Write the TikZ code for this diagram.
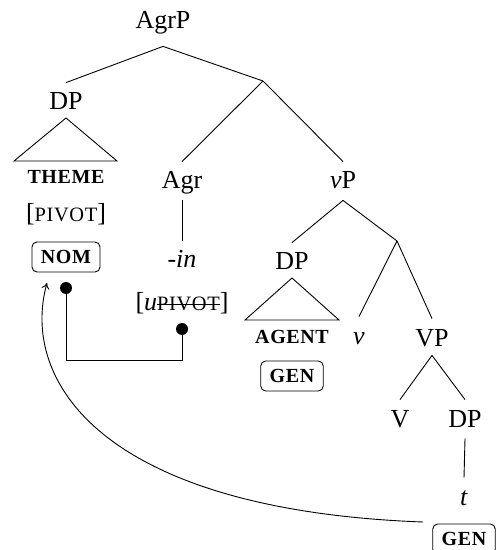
\documentclass[tikz,border=0pt]{standalone}
\usepackage{fontspec}
\setmainfont{Liberation Serif}
\newfontfamily\scfont[LetterSpace=3]{Liberation Serif}
\usetikzlibrary{arrows.meta}
\newcommand\smc[1]{{\scfont\fontsize{10.2}{12}\selectfont #1}}
\newcommand\bsmc[1]{{\scfont\bfseries\fontsize{10}{12}\selectfont #1}}
\newcommand\strk[1]{\setbox0\hbox{#1}\rlap{\rule[0.45ex]{\wd0}{0.5pt}}\box0}
\begin{document}
\begin{tikzpicture}[x=0.5pt,y=-0.5pt,
  lab/.style={anchor=base,font=\fontsize{13}{15}\selectfont,inner sep=2.5pt,text height=11pt,text depth=3pt},
  feat/.style={anchor=base,font=\fontsize{13}{15}\selectfont,inner sep=1pt},
  casebox/.style={draw,rounded corners=2.5pt,font=\fontsize{13}{15}\selectfont,inner xsep=4.5pt,minimum height=15pt,text height=6.8pt,text depth=0pt,line width=0.45pt},
  dotn/.style={circle,fill,inner sep=0pt,minimum size=6pt},
  br/.style={line width=0.45pt}]
\useasboundingbox (0,0) rectangle (497,550);
% labels
\node[lab,text depth=6pt] (agrp) at (163,29) {AgrP};
\node[lab] (dp1) at (66,110) {DP};
\coordinate (xb) at (263,81);
\node[lab] (agr) at (182,189) {Agr};
\node[lab] (vp) at (343,189) {\textit{v}P};
\node[lab] (in) at (182,268) {\textit{-in}};
\node[feat] (upivot) at (182,310) {[\textit{u}\strk{\smc{PIVOT}}]};
\node[feat] (theme) at (66,184) {\bsmc{THEME}};
\node[feat] (pivot) at (66,222) {[\smc{PIVOT}]};
\node[casebox] (nom) at (66,257) {\bsmc{NOM}};
\node[lab] (dp2) at (292,270) {DP};
\node[feat] (agent) at (292,343) {\bsmc{AGENT}};
\coordinate (yb) at (397,241);
\node[lab] (v) at (359,344) {\textit{v}};
\node[lab,text depth=2pt] (VP) at (432,346) {VP};
\node[casebox] (gen1) at (292,376) {\bsmc{GEN}};
\node[lab] (V) at (400,427) {V};
\node[lab] (dp3) at (465,427) {DP};
\node[lab] (t) at (464,505) {\textit{t}};
\node[casebox] (gen2) at (464,539) {\bsmc{GEN}};
% branches
\draw[br] (agrp.south) -- (dp1.north);
\draw[br] (agrp.south) -- (xb);
\draw[br] (xb) -- (agr.north);
\draw[br] (xb) -- (vp.north);
\draw[br] (agr.south) -- (in.north);
\draw[br] (vp.south) -- (dp2.north);
\draw[br] (vp.south) -- (yb);
\draw[br] (yb) -- (v.north);
\draw[br] (yb) -- (VP.north);
\draw[br] (VP.south) -- (V.north);
\draw[br] (VP.south) -- (dp3.north);
\draw[br] (dp3.south) -- (t.north);
% triangles
\draw[br] (66,118) -- (14,161) -- (117,161) -- cycle;
\draw[br] (292,278) -- (245,320) -- (339,320) -- cycle;
% agree line
\node[dotn] (d1) at (66,288) {};
\node[dotn] (d2) at (182,329) {};
\coordinate (bend) at (66,360);
\draw[br] (d1.center) -- (bend) -| (d2.center);
% movement arrow
\coordinate (mvs) at (423,522);
\coordinate (mve) at (47,283);
\draw[br,-{To[length=3pt,width=4pt]}] (mvs) .. controls (100,510) and (20,380) .. (mve);
\end{tikzpicture}
\end{document}
